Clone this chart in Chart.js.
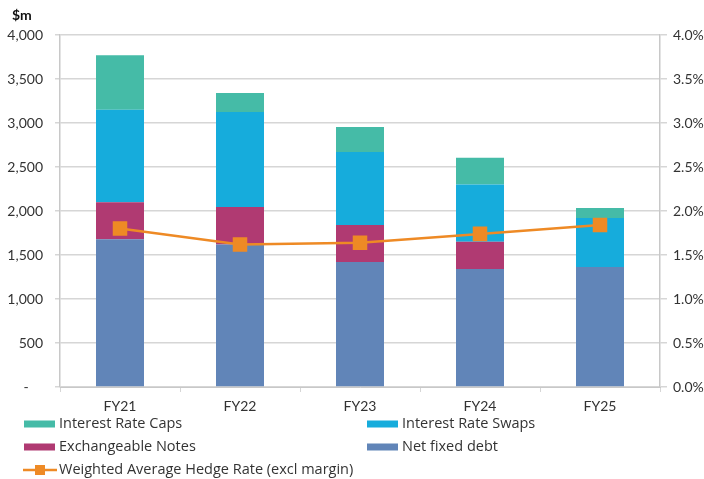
<!DOCTYPE html>
<html><head><meta charset="utf-8">
<script src="https://cdn.jsdelivr.net/npm/chart.js@4"></script>
<style>html,body{margin:0;padding:0;background:#fff;}canvas{display:block;}</style>
</head><body>
<canvas id="c" width="704" height="479"></canvas>
<script>
const categories = ['FY21','FY22','FY23','FY24','FY25'];
const netFixedDebt = [1680, 1620, 1420, 1340, 1365];
const exchangeableNotes = [420, 425, 420, 310, 0];
const interestRateSwaps = [1050, 1080, 830, 650, 555];
const interestRateCaps = [620, 215, 285, 305, 115];
const hedgeRate = [1.80, 1.62, 1.64, 1.74, 1.84];
const leftTicks = [0,500,1000,1500,2000,2500,3000,3500,4000];
const rightTicks = [0,0.5,1,1.5,2,2.5,3,3.5,4];

const FONT = 'Lato, "Open Sans", sans-serif';
const LFONT = '"Open Sans", Lato, sans-serif';
const C = {caps:'#45bba7', swaps:'#16acdc', exch:'#b03a72', net:'#6185b8', line:'#ee8a25', grid:'#d6d6d6', text:'#333333'};

const legendItems = [
  {label:'Interest Rate Caps', color:C.caps, col:0, row:0},
  {label:'Interest Rate Swaps', color:C.swaps, col:1, row:0},
  {label:'Exchangeable Notes', color:C.exch, col:0, row:1},
  {label:'Net fixed debt', color:C.net, col:1, row:1},
  {label:'Weighted Average Hedge Rate (excl margin)', color:C.line, col:0, row:2, line:true}
];

const customDraw = {
  id:'customDraw',
  afterDraw(chart){
    const ctx = chart.ctx;
    ctx.save();
    ctx.fillStyle = '#111';
    ctx.font = 'bold 14px ' + FONT;
    ctx.textBaseline = 'middle';
    ctx.textAlign = 'left';
    ctx.fillText('$m', 12, 15);
    const colX = [24, 367];
    const rowY = [424, 447, 470];
    ctx.font = '14.5px ' + LFONT;
    legendItems.forEach(it => {
      const x = colX[it.col], y = rowY[it.row];
      if (it.line) {
        ctx.strokeStyle = it.color; ctx.lineWidth = 2.5;
        ctx.beginPath(); ctx.moveTo(x-1, y); ctx.lineTo(x+33, y); ctx.stroke();
        ctx.fillStyle = it.color; ctx.fillRect(x+11, y-5, 10, 10);
      } else {
        ctx.fillStyle = it.color; ctx.fillRect(x, y-3.5, 31, 7);
      }
      ctx.fillStyle = C.text;
      ctx.fillText(it.label, x+35, y);
    });
    ctx.restore();
  }
};

new Chart(document.getElementById('c'), {
  data: {
    labels: categories,
    datasets: [
      {type:'line', label:'Weighted Average Hedge Rate (excl margin)', data:hedgeRate, yAxisID:'y1', order:0,
       borderColor:C.line, backgroundColor:C.line, borderWidth:2.5, pointStyle:'rect', pointRadius:8.5, pointHoverRadius:8.5, tension:0},
      {type:'bar', label:'Net fixed debt', data:netFixedDebt, backgroundColor:C.net, yAxisID:'y', order:1, stack:'s'},
      {type:'bar', label:'Exchangeable Notes', data:exchangeableNotes, backgroundColor:C.exch, yAxisID:'y', order:1, stack:'s'},
      {type:'bar', label:'Interest Rate Swaps', data:interestRateSwaps, backgroundColor:C.swaps, yAxisID:'y', order:1, stack:'s'},
      {type:'bar', label:'Interest Rate Caps', data:interestRateCaps, backgroundColor:C.caps, yAxisID:'y', order:1, stack:'s'}
    ]
  },
  options: {
    responsive:false, animation:false,
    devicePixelRatio:1,
    layout:{padding:{top:35, left:0, right:0, bottom:0}},
    datasets:{bar:{categoryPercentage:1, barPercentage:0.4}},
    plugins:{legend:{display:false}, tooltip:{enabled:false}, title:{display:false}},
    scales:{
      x:{stacked:true, offset:true,
         grid:{offset:true, drawOnChartArea:false, drawTicks:true, tickLength:5, color:C.grid},
         border:{color:'#c8c8c8', width:1},
         ticks:{font:{family:FONT, size:14}, color:C.text, padding:6},
         afterFit(s){ s.height = 92; }},
      y:{stacked:true, position:'left', min:0, max:4000,
         afterBuildTicks(s){ s.ticks = leftTicks.map(v=>({value:v})); },
         grid:{color:C.grid, lineWidth:1.5, tickLength:5},
         border:{color:'#c8c8c8', width:1.5},
         ticks:{font:{family:FONT, size:14}, color:C.text, padding:12,
                callback:v => v===0 ? '-    ' : v.toLocaleString('en-US')},
         afterFit(s){ s.width = 60; }},
      y1:{position:'right', min:0, max:4,
         afterBuildTicks(s){ s.ticks = rightTicks.map(v=>({value:v})); },
         grid:{drawOnChartArea:false, color:C.grid, tickLength:7, lineWidth:1.5},
         border:{color:'#c8c8c8', width:1.5},
         ticks:{font:{family:FONT, size:14}, color:C.text, padding:6,
                callback:v => v.toFixed(1)+'%'},
         afterFit(s){ s.width = 44; }}
    }
  },
  plugins:[customDraw]
});
</script>
</body></html>
